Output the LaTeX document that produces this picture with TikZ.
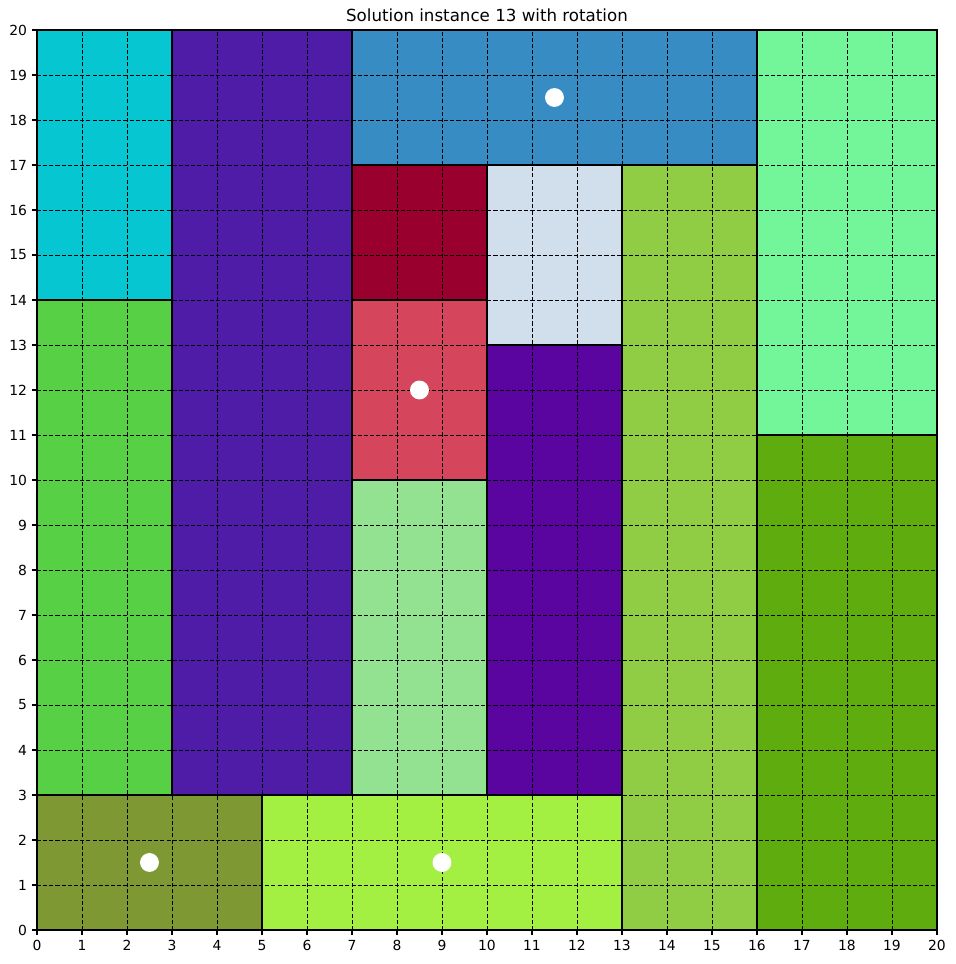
\documentclass[tikz,border=0pt]{standalone}
\usepackage{fontspec}
\setmainfont{DejaVu Sans}
\definecolor{tilecyan}{RGB}{6,198,210}
\definecolor{tilepurple}{RGB}{79,28,168}
\definecolor{tileblue}{RGB}{56,140,196}
\definecolor{tilemint}{RGB}{115,245,154}
\definecolor{tilecrimson}{RGB}{153,0,45}
\definecolor{tilepale}{RGB}{209,223,236}
\definecolor{tileyellowgreen}{RGB}{144,205,69}
\definecolor{tilegreen}{RGB}{88,208,69}
\definecolor{tilerose}{RGB}{213,70,92}
\definecolor{tilesage}{RGB}{147,226,146}
\definecolor{tileviolet}{RGB}{90,5,160}
\definecolor{tileforest}{RGB}{95,172,14}
\definecolor{tileolive}{RGB}{126,152,52}
\definecolor{tilelime}{RGB}{163,239,66}
\begin{document}
\begin{tikzpicture}[
    x=1cm, y=1cm,
    tile/.style={draw=black, line width=1.3pt},
    gridline/.style={black, line width=0.5pt, dash pattern=on 2.6pt off 1.3pt},
    ticklbl/.style={font=\fontsize{8.78}{10}\selectfont, inner sep=0pt},
    marker/.style={fill=white}
  ]
  \useasboundingbox (-0.822,-0.756) rectangle (20.422,20.667);
  % tiles
  \foreach \xa/\ya/\xb/\yb/\c in {0/14/3/20/tilecyan, 3/3/7/20/tilepurple,
      7/17/16/20/tileblue, 16/11/20/20/tilemint, 7/14/10/17/tilecrimson,
      10/13/13/17/tilepale, 13/0/16/17/tileyellowgreen, 0/3/3/14/tilegreen,
      7/10/10/14/tilerose, 7/3/10/10/tilesage, 10/3/13/13/tileviolet,
      16/0/20/11/tileforest, 0/0/5/3/tileolive, 5/0/13/3/tilelime} {
    \fill[\c] (\xa,\ya) rectangle (\xb,\yb);
  }
  % grid
  \foreach \i in {1,...,19} {
    \draw[gridline] (\i,0) -- (\i,20);
    \draw[gridline] (0,\i) -- (20,\i);
  }
  % tile outlines
  \foreach \xa/\ya/\xb/\yb in {0/14/3/20, 3/3/7/20, 7/17/16/20, 16/11/20/20,
      7/14/10/17, 10/13/13/17, 13/0/16/17, 0/3/3/14, 7/10/10/14, 7/3/10/10,
      10/3/13/13, 16/0/20/11, 0/0/5/3, 5/0/13/3} {
    \draw[tile] (\xa,\ya) rectangle (\xb,\yb);
  }
  % markers
  \foreach \px/\py in {11.5/18.5, 8.5/12, 2.5/1.5, 9/1.5} {
    \fill[marker] (\px,\py) circle (0.21);
  }
  % axes and ticks
  \draw[line width=0.7pt] (0,0) rectangle (20,20);
  \foreach \i in {0,...,20} {
    \draw[line width=0.7pt] (\i,0) -- (\i,-0.108);
    \node[ticklbl, anchor=north] (xt\i) at (\i,-0.216) {\i};
    \draw[line width=0.7pt] (0,\i) -- (-0.108,\i);
    \node[ticklbl, anchor=east] (yt\i) at (-0.216,\i) {\i};
  }
  % title
  \node[font=\fontsize{10.54}{12}\selectfont, inner sep=0pt, anchor=base] (title)
    at (10,20.185) {Solution instance 13 with rotation};
\end{tikzpicture}
\end{document}
